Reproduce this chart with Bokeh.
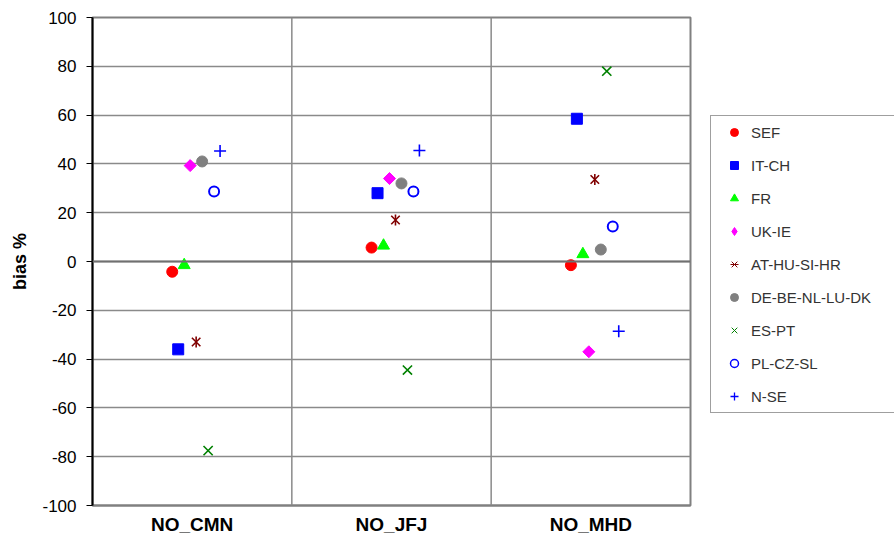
import math
from bokeh.plotting import figure
from bokeh.layouts import row
from bokeh.models import (FactorRange, Range1d, FixedTicker, Span, Legend, LegendItem,
                          ColumnDataSource)
from bokeh.transform import dodge
from bokeh.embed import file_html
from bokeh.resources import INLINE

stations = ["NO_CMN", "NO_JFJ", "NO_MHD"]
series_names = ["SEF", "IT-CH", "FR", "UK-IE", "AT-HU-SI-HR", "DE-BE-NL-LU-DK",
                "ES-PT", "PL-CZ-SL", "N-SE"]

sef = [-4.2, 5.7, -1.5]
it_ch = [-36, 28, 58.5]
fr = [-1.5, 6.5, 3]
uk_ie = [39.3, 34, -37]
at_hu_si_hr = [-33, 17, 33.6]
de_be_nl_lu_dk = [41, 32, 4.9]
es_pt = [-77.5, -44.5, 78]
pl_cz_sl = [28.7, 28.7, 14.3]
n_se = [45.3, 45.5, -28.6]

y_ticks = [-100, -80, -60, -40, -20, 0, 20, 40, 60, 80, 100]
y_tick_labels = {t: str(t) for t in y_ticks}

values = [sef, it_ch, fr, uk_ie, at_hu_si_hr, de_be_nl_lu_dk, es_pt, pl_cz_sl, n_se]

# each series: list of glyph layers drawn on top of each other
styles = [
    [dict(marker="circle", size=11, fill_color="#FF0000", line_color="#FF0000", line_width=1)],
    [dict(marker="square", size=11, fill_color="#0000FF", line_color="#0000FF", line_width=1)],
    [dict(marker="triangle", size=12, fill_color="#00FF00", line_color="#00FF00", line_width=1)],
    [dict(marker="square", size=8.5, angle=math.pi / 4, fill_color="#FF00FF", line_color="#FF00FF", line_width=1)],
    [dict(marker="x", size=12, fill_color=None, line_color="#800000", line_width=1.6),
     dict(marker="dash", size=11, angle=math.pi / 2, fill_color=None, line_color="#800000", line_width=1.6)],
    [dict(marker="circle", size=11, fill_color="#808080", line_color="#808080", line_width=1)],
    [dict(marker="x", size=13, fill_color=None, line_color="#008000", line_width=1.6)],
    [dict(marker="circle", size=10, fill_color=None, line_color="#0000FF", line_width=2)],
    [dict(marker="cross", size=12, fill_color=None, line_color="#0000FF", line_width=1.6)],
]
legend_styles = [
    [dict(marker="circle", fill_color="#FF0000", line_color="#FF0000")],
    [dict(marker="square", fill_color="#0000FF", line_color="#0000FF")],
    [dict(marker="triangle", fill_color="#00FF00", line_color="#00FF00")],
    [dict(marker="diamond", fill_color="#FF00FF", line_color="#FF00FF")],
    [dict(marker="x", line_color="#800000", line_width=1),
     dict(marker="dash", angle=math.pi / 2, line_color="#800000", line_width=1)],
    [dict(marker="circle", fill_color="#808080", line_color="#808080")],
    [dict(marker="x", line_color="#008000", line_width=1)],
    [dict(marker="circle", fill_color=None, line_color="#0000FF", line_width=1.5)],
    [dict(marker="cross", line_color="#0000FF", line_width=1.3)],
]

H = 539
p = figure(x_range=FactorRange(factors=stations, range_padding=0),
           y_range=Range1d(-100, 100),
           width=692, height=H, output_backend="svg", toolbar_location=None,
           min_border_left=92, min_border_right=2, min_border_top=17, min_border_bottom=34)
p.background_fill_color = "white"
p.border_fill_color = "white"
p.outline_line_color = "#808080"
p.outline_line_width = 2

# grids
p.ygrid.ticker = FixedTicker(ticks=y_ticks)
p.ygrid.grid_line_color = "#8a8a8a"
p.ygrid.grid_line_width = 1.5
p.xgrid.grid_line_color = None
for b in [1, 2]:
    p.add_layout(Span(location=b, dimension="height", line_color="#8a8a8a", line_width=1.5))
p.add_layout(Span(location=0, dimension="width", line_color="#707070", line_width=2))

# y axis
p.yaxis.ticker = FixedTicker(ticks=y_ticks)
p.yaxis.major_label_overrides = y_tick_labels
p.yaxis.axis_line_color = "black"
p.yaxis.axis_line_width = 2
p.yaxis.major_tick_out = 6
p.yaxis.major_tick_in = 0
p.yaxis.major_tick_line_color = "black"
p.yaxis.minor_tick_line_color = None
p.yaxis.major_label_standoff = 10
p.yaxis.major_label_text_font = "Liberation Sans"
p.yaxis.major_label_text_font_size = "17px"
p.yaxis.major_label_text_color = "black"
p.yaxis.axis_label = "bias %"
p.yaxis.axis_label_text_font = "Liberation Sans"
p.yaxis.axis_label_text_font_style = "bold"
p.yaxis.axis_label_text_font_size = "18px"
p.yaxis.axis_label_text_color = "black"
p.yaxis.axis_label_standoff = 9

# x axis
p.xaxis.axis_line_color = "#808080"
p.xaxis.axis_line_width = 2
p.xaxis.major_tick_line_color = None
p.xaxis.major_tick_out = 0
p.xaxis.major_tick_in = 0
p.xaxis.minor_tick_line_color = None
p.xaxis.major_label_standoff = 8
p.xaxis.major_label_text_font = "Liberation Sans"
p.xaxis.major_label_text_font_style = "bold"
p.xaxis.major_label_text_font_size = "19px"
p.xaxis.major_label_text_color = "black"

for j, (vals, layers) in enumerate(zip(values, styles)):
    src = ColumnDataSource(dict(station=stations, v=vals))
    offset = -0.1 + 0.03 * j
    for st in layers:
        p.scatter(x=dodge("station", offset, range=p.x_range), y="v", source=src, **st)

# legend panel
pl = figure(width=202, height=H, x_range=Range1d(0, 1), y_range=Range1d(0, 1),
            x_axis_type=None, y_axis_type=None, output_backend="svg", toolbar_location=None,
            min_border_left=0, min_border_right=0, min_border_top=17, min_border_bottom=34)
pl.outline_line_color = None
pl.grid.visible = False
pl.background_fill_color = "white"
pl.border_fill_color = "white"

items = []
for name, layers in zip(series_names, legend_styles):
    offscreen = ColumnDataSource(dict(x=[5], y=[5]))
    rs = [pl.scatter(x="x", y="y", source=offscreen, **st) for st in layers]
    items.append(LegendItem(label=name, renderers=rs))

legend = Legend(items=items, location=(18, 92), orientation="vertical",
                padding=6, spacing=13, glyph_width=34, glyph_height=20,
                label_height=20, label_standoff=-9, label_width=150,
                label_text_font="Liberation Sans", label_text_font_size="15px",
                label_text_color="#333333", border_line_color="#404040",
                border_line_width=1, background_fill_color="white", margin=0)
pl.add_layout(legend, "center")

layout = row(p, pl, spacing=0)
open("out.html", "w").write(file_html(layout, INLINE))
